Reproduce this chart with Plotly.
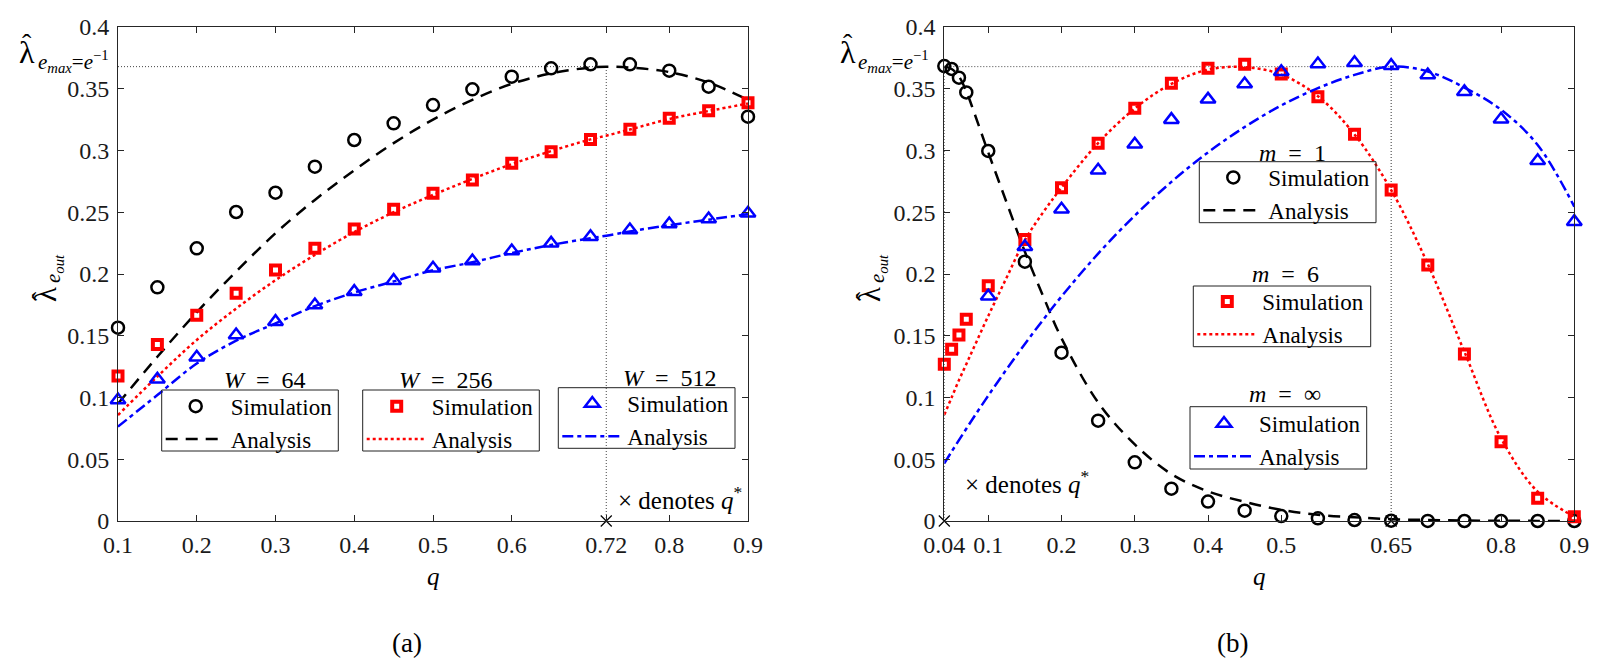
import plotly.graph_objects as go

# ---------------- Panel (a) data ----------------
q_a = [0.1, 0.15, 0.2, 0.25, 0.3, 0.35, 0.4, 0.45, 0.5, 0.55, 0.6, 0.65, 0.7, 0.75, 0.8, 0.85, 0.9]
sim_w64 = [0.1565, 0.1892, 0.2208, 0.2502, 0.2658, 0.2869, 0.3085, 0.322, 0.3368, 0.3495,
           0.3598, 0.3665, 0.3698, 0.3698, 0.3646, 0.3517, 0.3274]
sim_w256 = [0.1174, 0.143, 0.1665, 0.1844, 0.2032, 0.2208, 0.2364, 0.2524, 0.2653, 0.2761,
            0.2896, 0.299, 0.309, 0.3172, 0.3261, 0.3322, 0.3387]
sim_w512 = [0.098, 0.1147, 0.1325, 0.1506, 0.1614, 0.1749, 0.1857, 0.1946, 0.2046, 0.2105,
            0.2186, 0.2248, 0.2302, 0.2356, 0.2405, 0.2445, 0.2491]

q_a_ana = [0.1, 0.15, 0.2, 0.25, 0.3, 0.35, 0.4, 0.45, 0.5, 0.55, 0.6, 0.65, 0.7, 0.72, 0.75, 0.8, 0.85, 0.9]
ana_w64 = [0.095, 0.133, 0.169, 0.202, 0.233, 0.260, 0.284, 0.306, 0.325, 0.341, 0.354,
           0.3625, 0.3672, 0.3679, 0.3672, 0.3635, 0.355, 0.341]
ana_w256 = [0.0858, 0.117, 0.1466, 0.172, 0.195, 0.2155, 0.234, 0.250, 0.264, 0.277, 0.289,
            0.2995, 0.309, 0.312, 0.317, 0.3255, 0.332, 0.338]
ana_w512 = [0.0764, 0.102, 0.1275, 0.146, 0.160, 0.174, 0.185, 0.194, 0.203, 0.2095, 0.217,
            0.2235, 0.229, 0.231, 0.2345, 0.2395, 0.244, 0.2485]

q_star_a = 0.72
lam_max = 0.3679

xticks_a = [0.1, 0.2, 0.3, 0.4, 0.5, 0.6, 0.72, 0.8, 0.9]
xticklabels_a = ["0.1", "0.2", "0.3", "0.4", "0.5", "0.6", "0.72", "0.8", "0.9"]

# ---------------- Panel (b) data ----------------
q_b_sim = [0.04, 0.05, 0.06, 0.07, 0.1, 0.15, 0.2, 0.25, 0.3, 0.35, 0.4, 0.45, 0.5, 0.55,
           0.6, 0.65, 0.7, 0.75, 0.8, 0.85, 0.9]
sim_m1 = [0.3684, 0.366, 0.359, 0.347, 0.2996, 0.21, 0.1363, 0.0812, 0.0475, 0.0262, 0.0157,
          0.0084, 0.004, 0.0022, 0.0008, 0.0003, 0.0001, 0.0, 0.0, 0.0, 0.0]
sim_m6 = [0.1269, 0.139, 0.1506, 0.1633, 0.1905, 0.228, 0.2699, 0.3058, 0.3342, 0.3544, 0.3665,
          0.3698, 0.362, 0.3436, 0.3131, 0.268, 0.2073, 0.1352, 0.0642, 0.0184, 0.0035]
q_b_sim_inf = [0.1, 0.15, 0.2, 0.25, 0.3, 0.35, 0.4, 0.45, 0.5, 0.55, 0.6, 0.65, 0.7, 0.75,
               0.8, 0.85, 0.9]
sim_minf = [0.182, 0.222, 0.2524, 0.284, 0.305, 0.325, 0.3414, 0.3538, 0.3638, 0.370, 0.3711,
            0.3687, 0.3611, 0.3476, 0.3253, 0.2917, 0.2424]

q_b_ana = [0.04, 0.05, 0.06, 0.07, 0.08, 0.1, 0.125, 0.15, 0.175, 0.2, 0.25, 0.3, 0.35, 0.4,
           0.45, 0.5, 0.55, 0.6, 0.65, 0.7, 0.75, 0.8, 0.85, 0.9]
ana_m1 = [0.3679, 0.366, 0.360, 0.348, 0.332, 0.2985, 0.258, 0.218, 0.182, 0.148, 0.096, 0.062,
          0.038, 0.024, 0.0155, 0.009, 0.005, 0.003, 0.0015, 0.0008, 0.0004, 0.0002, 0.0001, 0.0]
ana_m6 = [0.086, 0.100, 0.114, 0.127, 0.140, 0.166, 0.197, 0.2275, 0.250, 0.270, 0.306, 0.334,
          0.354, 0.3655, 0.3675, 0.3615, 0.344, 0.313, 0.268, 0.208, 0.137, 0.067, 0.0237, 0.0035]
ana_minf = [0.0467, 0.0562, 0.0655, 0.0747, 0.0838, 0.1015, 0.1228, 0.1433, 0.163, 0.1818,
            0.2165, 0.2473, 0.2746, 0.2985, 0.319, 0.3365, 0.3505, 0.3612, 0.3679, 0.364,
            0.351, 0.333, 0.3045, 0.2545]

q_star_b = [0.04, 0.65]

xticks_b = [0.04, 0.1, 0.2, 0.3, 0.4, 0.5, 0.65, 0.8, 0.9]
xticklabels_b = ["0.04", "0.1", "0.2", "0.3", "0.4", "0.5", "0.65", "0.8", "0.9"]

yticks = [0, 0.05, 0.1, 0.15, 0.2, 0.25, 0.3, 0.35, 0.4]
yticklabels = ["0", "0.05", "0.1", "0.15", "0.2", "0.25", "0.3", "0.35", "0.4"]

# ---------------- styling ----------------
W, H = 1605, 664
SERIF = "Liberation Serif"
BLACK = "#000000"
RED = "#ff0000"
BLUE = "#0000ff"
DASH_K = "12px,8px"
DASH_B = "11px,4px,4px,4px"
DOT_R = "3px,3px"
REF_DOT = "1px,2px"
EN = "\u2002"


def px(x):
    return x / W


def py(y):
    return 1 - y / H


fig = go.Figure()

# reference lines panel (a)
fig.add_trace(go.Scatter(x=[0.1, q_star_a], y=[lam_max, lam_max], mode="lines",
                         line=dict(color="#444", width=1, dash=REF_DOT),
                         showlegend=False, xaxis="x", yaxis="y", hoverinfo="skip"))
fig.add_trace(go.Scatter(x=[q_star_a, q_star_a], y=[0, lam_max], mode="lines",
                         line=dict(color="#444", width=1, dash=REF_DOT),
                         showlegend=False, xaxis="x", yaxis="y", hoverinfo="skip"))
# reference lines panel (b)
fig.add_trace(go.Scatter(x=[0.04, q_star_b[1]], y=[lam_max, lam_max], mode="lines",
                         line=dict(color="#444", width=1, dash=REF_DOT),
                         showlegend=False, xaxis="x2", yaxis="y2", hoverinfo="skip"))
for qs in q_star_b:
    fig.add_trace(go.Scatter(x=[qs, qs], y=[0, lam_max], mode="lines",
                             line=dict(color="#333", width=1, dash=REF_DOT),
                             showlegend=False, xaxis="x2", yaxis="y2", hoverinfo="skip"))

circle = dict(symbol="circle-open", size=12, color=BLACK, line=dict(width=2.5, color=BLACK))
square = dict(symbol="square-open", size=9, color=RED, line=dict(width=4, color=RED))
tri = dict(symbol="triangle-up-open", size=13, color=BLUE, line=dict(width=2.5, color=BLUE))

# ---- panel (a) series ----
specs_a = [
    (sim_w64, ana_w64, circle, BLACK, DASH_K, "legend"),
    (sim_w256, ana_w256, square, RED, DOT_R, "legend2"),
    (sim_w512, ana_w512, tri, BLUE, DASH_B, "legend3"),
]
for sim, ana, mk, col, dash, lg in specs_a:
    fig.add_trace(go.Scatter(x=q_a_ana, y=ana, mode="lines", name="Analysis",
                             line=dict(color=col, width=2.5, dash=dash, shape="spline"),
                             legend=lg, legendrank=2, xaxis="x", yaxis="y", cliponaxis=False))
    fig.add_trace(go.Scatter(x=q_a, y=sim, mode="markers", name="Simulation", marker=mk,
                             legend=lg, legendrank=1, xaxis="x", yaxis="y", cliponaxis=False))

# ---- panel (b) series ----
specs_b = [
    (q_b_sim, sim_m1, ana_m1, circle, BLACK, DASH_K, "legend4"),
    (q_b_sim, sim_m6, ana_m6, square, RED, DOT_R, "legend5"),
    (q_b_sim_inf, sim_minf, ana_minf, tri, BLUE, DASH_B, "legend6"),
]
for qs, sim, ana, mk, col, dash, lg in specs_b:
    fig.add_trace(go.Scatter(x=q_b_ana, y=ana, mode="lines", name="Analysis",
                             line=dict(color=col, width=2.5, dash=dash, shape="spline"),
                             legend=lg, legendrank=2, xaxis="x2", yaxis="y2", cliponaxis=False))
    fig.add_trace(go.Scatter(x=qs, y=sim, mode="markers", name="Simulation", marker=mk,
                             legend=lg, legendrank=1, xaxis="x2", yaxis="y2", cliponaxis=False))

# q* crosses
fig.add_trace(go.Scatter(x=[q_star_a], y=[0], mode="markers",
                         marker=dict(symbol="x-thin-open", size=11, color=BLACK,
                                     line=dict(width=1.2, color=BLACK)),
                         showlegend=False, xaxis="x", yaxis="y", cliponaxis=False))
fig.add_trace(go.Scatter(x=q_star_b, y=[0, 0], mode="markers",
                         marker=dict(symbol="x-thin-open", size=11, color=BLACK,
                                     line=dict(width=1.2, color=BLACK)),
                         showlegend=False, xaxis="x2", yaxis="y2", cliponaxis=False))

axis_common = dict(showline=True, linecolor="#262626", linewidth=1, mirror="ticks",
                   ticks="inside", ticklen=6, tickcolor="#262626", showgrid=False,
                   zeroline=False, tickfont=dict(family=SERIF, size=24, color="#1a1a1a"),
                   fixedrange=True, automargin=False)

y_dom = [py(521), py(27)]
fig.update_layout(
    template="none",
    width=W, height=H, autosize=False,
    margin=dict(l=0, r=0, t=0, b=0, pad=0),
    paper_bgcolor="white", plot_bgcolor="white",
    font=dict(family=SERIF, size=22, color="black"),
    xaxis=dict(domain=[px(118), px(748)], range=[0.1, 0.9], tickvals=xticks_a,
               ticktext=xticklabels_a, anchor="y", ticklabelstandoff=2, **axis_common),
    yaxis=dict(domain=y_dom, range=[0, 0.4], tickvals=yticks, ticktext=yticklabels,
               anchor="x", ticklabelstandoff=3, **axis_common),
    xaxis2=dict(domain=[px(944.3), px(1574.3)], range=[0.04, 0.9], tickvals=xticks_b,
                ticktext=xticklabels_b, anchor="y2", ticklabelstandoff=2, **axis_common),
    yaxis2=dict(domain=y_dom, range=[0, 0.4], tickvals=yticks, ticktext=yticklabels,
                anchor="x2", ticklabelstandoff=3, **axis_common),
)

# legend boxes (left, top, right, bottom) and first-row centre, in pixels
legend_boxes = {
    "legend": (161.7, 390, 338.3, 451, 407.7),
    "legend2": (362.7, 390, 539.3, 451, 407.7),
    "legend3": (558.3, 387.7, 735, 448.3, 405),
    "legend4": (1199.3, 161.7, 1376, 222.7, 179),
    "legend5": (1193.3, 286, 1370.7, 346.7, 303),
    "legend6": (1190, 406.7, 1366.7, 469, 425),
}
shapes = []
for name, (x0, y0, x1, y1, row1) in legend_boxes.items():
    fig.update_layout({name: dict(x=px(x0 - 1), y=py(row1 - 23), xanchor="left", yanchor="top",
                                  borderwidth=0, bgcolor="rgba(0,0,0,0)", itemwidth=60,
                                  font=dict(family=SERIF, size=23, color="black"),
                                  tracegroupgap=0, itemclick=False, itemdoubleclick=False)})
    shapes.append(dict(type="rect", xref="paper", yref="paper", x0=px(x0), x1=px(x1),
                       y0=py(y1), y1=py(y0), line=dict(color="#222", width=1),
                       fillcolor="rgba(0,0,0,0)", layer="above"))

annotations = []


def ann(x, y, text, size=22, **kw):
    d = dict(x=px(x), y=py(y), xref="paper", yref="paper", text=text, showarrow=False,
             font=dict(family=SERIF, size=size, color="black"), xanchor="center",
             yanchor="middle")
    d.update(kw)
    annotations.append(d)


# legend titles
ann(265, 380, "<i>W</i>" + EN + "=" + EN + "64", size=24)
ann(446, 380, "<i>W</i>" + EN + "=" + EN + "256", size=24)
ann(670, 378, "<i>W</i>" + EN + "=" + EN + "512", size=24)
ann(1292.5, 153, "<i>m</i>" + EN + "=" + EN + "1", size=24)
ann(1285, 274, "<i>m</i>" + EN + "=" + EN + "6", size=24)
ann(1285, 394, "<i>m</i>" + EN + "=" + EN + "∞", size=24)

# q* notes
ann(680, 498, "× denotes <i>q</i><sup>*</sup>", size=25)
ann(1027, 482, "× denotes <i>q</i><sup>*</sup>", size=25)

# axis titles
ann(433, 576, "<i>q</i>", size=25)
ann(1259, 576, "<i>q</i>", size=25)

# y-axis labels: lambda-hat with subscript e_out (rotated)
for dx in (0, 824):
    ann(45 + dx, 295, "λ", size=31, textangle=-90)
    ann(41 + dx, 296, "ˆ", size=28, textangle=-90)
    ann(54 + dx, 269, "<i>e</i><sub><i>out</i></sub>", size=21, textangle=-90)

# lambda-max labels
for dx in (0, 820):
    ann(27.5 + dx, 52, "λ", size=32)
    ann(27.5 + dx, 43, "ˆ", size=28)
    ann(36 + dx, 61, "<i>e</i><sub><i>max</i></sub>=<i>e</i><sup>−1</sup>", size=21,
        xanchor="left")

# captions
ann(407, 643, "(a)", size=27)
ann(1232, 643, "(b)", size=27)

fig.update_layout(annotations=annotations, shapes=shapes)

fig.write_html(
    "out.html",
    config={"displayModeBar": False, "displaylogo": False},
    post_script=("document.documentElement.style.margin='0';"
                 "document.body.style.margin='0';document.body.style.padding='0';"
                 "document.body.style.overflow='hidden';"),
)
